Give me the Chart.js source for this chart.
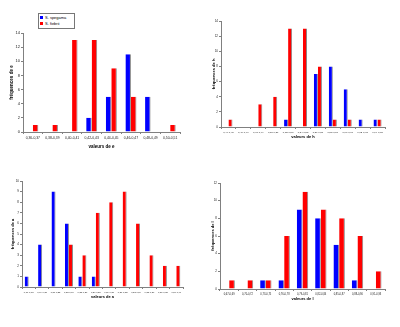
<!DOCTYPE html>
<html lang="fr">
<head>
<meta charset="UTF-8">
<title>Histogrammes</title>
<script src="https://cdn.jsdelivr.net/npm/chart.js"></script>
<style>
  body { margin: 0; background: #fff; font-family: "Liberation Sans", Arial, sans-serif; }
  #wrap { position: relative; width: 400px; height: 327px; }
  .panel { position: absolute; }
  .legend { position: absolute; left: 38px; top: 13px; width: 33px; padding: 1px 1px; border: 1px solid #777; background: #fff; font-size: 4px; line-height: 6px; color: #000; }
  .legend span.sw { display: inline-block; width: 3px; height: 3px; margin-right: 2px; vertical-align: middle; }
</style>
</head>
<body>
<div id="wrap">
  <canvas id="chartE" class="panel" style="left:0;top:0" width="200" height="163"></canvas>
  <canvas id="chartH" class="panel" style="left:200px;top:0" width="200" height="163"></canvas>
  <canvas id="chartA" class="panel" style="left:0;top:163px" width="200" height="164"></canvas>
  <canvas id="chartL" class="panel" style="left:200px;top:163px" width="200" height="164"></canvas>
  <div class="legend">
    <div><span class="sw" style="background:#0000ff"></span>S. spegama</div>
    <div><span class="sw" style="background:#ff0000"></span>S. fiebrii</div>
  </div>
</div>
<script>
    // species names
    const nameBlue = 'S. spegama';
    const nameRed = 'S. fiebrii';

    // valeurs de e
    const eLabels = ['0,36-0,37', '0,38-0,39', '0,40-0,41', '0,42-0,43', '0,44-0,45', '0,46-0,47', '0,48-0,49', '0,50-0,51'];
    const eBlue = [0, 0, 0, 2, 5, 11, 5, 0];
    const eRed = [1, 1, 13, 13, 9, 5, 0, 1];

    // valeurs de h
    const hLabels = ['0,44-0,45', '0,46-0,47', '0,48-0,49', '0,50-0,51', '0,52-0,53', '0,54-0,55', '0,56-0,57', '0,58-0,59', '0,60-0,61', '0,62-0,63', '0,64-0,65'];
    const hBlue = [0, 0, 0, 0, 1, 0, 7, 8, 5, 1, 1];
    const hRed = [1, 0, 3, 4, 13, 13, 8, 1, 1, 0, 1];

    // valeurs de a
    const aLabels = ['0,17-0,18', '0,19-0,20', '0,21-0,22', '0,23-0,24', '0,25-0,26', '0,27-0,28', '0,29-0,30', '0,31-0,32', '0,33-0,34', '0,35-0,36', '0,37-0,38', '0,39-0,40'];
    const aBlue = [1, 4, 9, 6, 1, 1, 0, 0, 0, 0, 0, 0];
    const aRed = [0, 0, 0, 4, 3, 7, 8, 9, 6, 3, 2, 2];

    // valeurs de l
    const lLabels = ['0,67-0,69', '0,70-0,72', '0,73-0,75', '0,76-0,78', '0,79-0,81', '0,82-0,84', '0,85-0,87', '0,88-0,90', '0,91-0,93'];
    const lBlue = [0, 0, 1, 1, 9, 8, 5, 1, 0];
    const lRed = [1, 1, 1, 6, 11, 9, 8, 6, 2];

    const FONT = '"Liberation Sans", Arial, sans-serif';

    function makeChart(id, labels, blue, red, o) {
        const ctx = document.getElementById(id).getContext('2d');
        return new Chart(ctx, {
            type: 'bar',
            data: {
                labels: labels,
                datasets: [
                    { label: nameBlue, data: blue, backgroundColor: '#0000ff', borderColor: '#8a8a8a', borderWidth: { right: 1 }, borderSkipped: 'bottom' },
                    { label: nameRed, data: red, backgroundColor: '#ff0000', borderColor: '#8a8a8a', borderWidth: { right: 1 }, borderSkipped: 'bottom' }
                ]
            },
            options: {
                responsive: false,
                animation: false,
                events: [],
                datasets: { bar: { categoryPercentage: o.cat, barPercentage: 1 } },
                layout: { padding: { left: 0, top: o.top, right: o.right, bottom: 0 } },
                plugins: { legend: { display: false }, tooltip: { enabled: false } },
                scales: {
                    x: {
                        grid: { display: true, drawOnChartArea: false, offset: true, tickLength: 2, color: '#808080' },
                        border: { display: true, color: '#808080', width: 1 },
                        ticks: { font: { size: o.tickSize, family: FONT }, color: '#222', maxRotation: 0, minRotation: 0, autoSkip: false, padding: 2 },
                        title: { display: true, text: o.xTitle, font: { size: o.titleSize, weight: 'bold', family: FONT }, color: '#000', padding: { top: 0, bottom: o.xTitlePad } },
                        afterFit: s => { s.height = o.xHeight; }
                    },
                    y: {
                        min: 0, max: o.yMax,
                        grid: { display: true, drawOnChartArea: false, tickLength: 2, color: '#808080' },
                        border: { display: true, color: '#808080', width: 1 },
                        ticks: { stepSize: o.yStep, font: { size: o.yTickSize, family: FONT }, color: '#222', padding: 1 },
                        title: { display: true, text: o.yTitle, font: { size: o.titleSize, weight: 'bold', family: FONT }, color: '#000', padding: { top: o.yTitlePad, bottom: 0 } },
                        afterFit: s => { s.width = o.yWidth; }
                    }
                }
            }
        });
    }

    makeChart('chartE', eLabels, eBlue, eRed, {
        yMax: 14, yStep: 2, top: 33, right: 20, xHeight: 31, yWidth: 23,
        tickSize: 3.4, yTickSize: 4, titleSize: 4.5, xTitle: 'valeurs de e', yTitle: 'fréquences de e', xTitlePad: 14, yTitlePad: 9, cat: 0.56
    });
    makeChart('chartH', hLabels, hBlue, hRed, {
        yMax: 14, yStep: 2, top: 21, right: 15, xHeight: 36, yWidth: 21,
        tickSize: 2.5, yTickSize: 3, titleSize: 4, xTitle: 'valeurs de h', yTitle: 'fréquences de h', xTitlePad: 24, yTitlePad: 11, cat: 0.54
    });
    makeChart('chartA', aLabels, aBlue, aRed, {
        yMax: 10, yStep: 1, top: 18, right: 17, xHeight: 40, yWidth: 22,
        tickSize: 2.3, yTickSize: 3, titleSize: 4, xTitle: 'valeurs de a', yTitle: 'fréquences de a', xTitlePad: 28, yTitlePad: 10, cat: 0.6
    });
    makeChart('chartL', lLabels, lBlue, lRed, {
        yMax: 12, yStep: 2, top: 20, right: 15, xHeight: 38, yWidth: 20,
        tickSize: 2.6, yTickSize: 3, titleSize: 4, xTitle: 'valeurs de l', yTitle: 'fréquences de l', xTitlePad: 26, yTitlePad: 10, cat: 0.62
    });
</script>
</body>
</html>
